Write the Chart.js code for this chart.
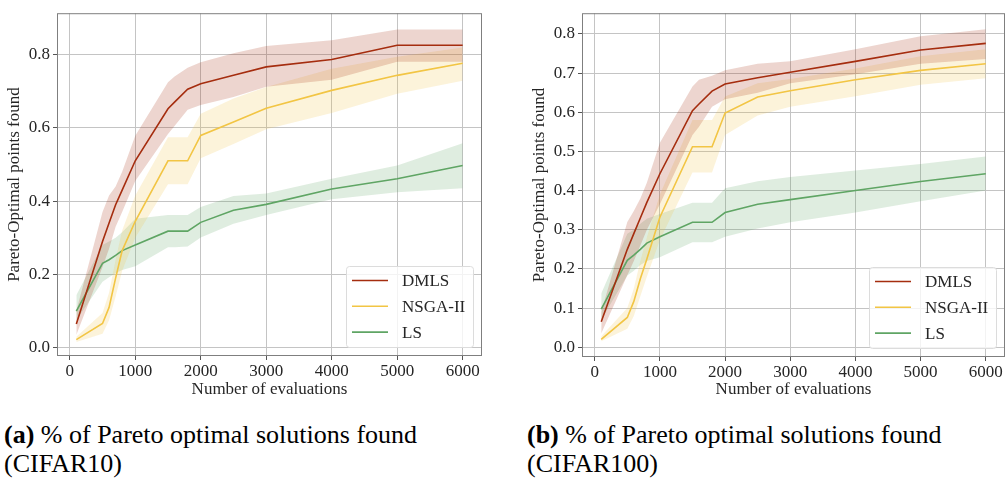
<!DOCTYPE html>
<html>
<head>
<meta charset="utf-8">
<script src="https://cdn.jsdelivr.net/npm/chart.js@4.4.1/dist/chart.umd.min.js"></script>
<style>
  html, body { margin: 0; padding: 0; background: #fff; }
  body { width: 1006px; height: 485px; position: relative; overflow: hidden; }
  .box { position: absolute; top: 0; height: 400px; }
  #boxA { left: 0; width: 490px; }
  #boxB { left: 500px; width: 506px; }
  .caption {
    position: absolute; top: 420px;
    font-family: "Liberation Serif", "Times New Roman", serif;
    font-size: 26px; line-height: 29px; color: #000; white-space: nowrap;
  }
  .caption b { font-weight: bold; }
</style>
</head>
<body>
<div class="box" id="boxA"><canvas id="chartA" width="490" height="400"></canvas></div>
<div class="box" id="boxB"><canvas id="chartB" width="506" height="400"></canvas></div>
<div class="caption" style="left:4px"><b>(a)</b> % of Pareto optimal solutions found<br>(CIFAR10)</div>
<div class="caption" style="left:527px"><b>(b)</b> % of Pareto optimal solutions found<br>(CIFAR100)</div>

<script>
// evaluation counts (x) shared by both panels
const xEvals = [100, 500, 600, 700, 800, 1000, 1500, 1600, 1800, 2000, 2500, 3000, 4000, 5000, 6000];
const xTicks = [0, 1000, 2000, 3000, 4000, 5000, 6000];
const yTicksA = [0, 0.2, 0.4, 0.6, 0.8];
const yTicksB = [0, 0.1, 0.2, 0.3, 0.4, 0.5, 0.6, 0.7, 0.8];

// (a) CIFAR10
const dmlsMeanA = [0.065, 0.29, 0.34, 0.39, 0.43, 0.51, 0.652, 0.67, 0.705, 0.72, 0.743, 0.766, 0.786, 0.825, 0.825];
const dmlsUpA   = [0.10, 0.37, 0.415, 0.44, 0.48, 0.578, 0.724, 0.74, 0.764, 0.779, 0.803, 0.823, 0.839, 0.868, 0.868];
const dmlsLowA  = [0.035, 0.22, 0.27, 0.33, 0.37, 0.455, 0.583, 0.605, 0.649, 0.662, 0.684, 0.712, 0.731, 0.78, 0.78];
const nsgaMeanA = [0.022, 0.066, 0.11, 0.19, 0.265, 0.345, 0.51, 0.51, 0.51, 0.579, 0.616, 0.653, 0.702, 0.743, 0.776];
const nsgaUpA   = [0.03, 0.095, 0.15, 0.24, 0.32, 0.415, 0.574, 0.574, 0.574, 0.638, 0.68, 0.711, 0.761, 0.794, 0.819];
const nsgaLowA  = [0.016, 0.038, 0.075, 0.14, 0.21, 0.30, 0.446, 0.446, 0.446, 0.517, 0.556, 0.596, 0.64, 0.693, 0.728];
const lsMeanA   = [0.10, 0.23, 0.24, 0.252, 0.265, 0.28, 0.318, 0.318, 0.318, 0.342, 0.375, 0.391, 0.433, 0.461, 0.497];
const lsUpA     = [0.143, 0.28, 0.29, 0.30, 0.315, 0.352, 0.362, 0.362, 0.362, 0.384, 0.414, 0.421, 0.461, 0.497, 0.558];
const lsLowA    = [0.075, 0.18, 0.192, 0.203, 0.212, 0.222, 0.274, 0.274, 0.276, 0.301, 0.338, 0.362, 0.405, 0.424, 0.435];

// (b) CIFAR100
const dmlsMeanB = [0.065, 0.25, 0.29, 0.33, 0.37, 0.443, 0.604, 0.621, 0.654, 0.672, 0.688, 0.702, 0.73, 0.759, 0.776];
const dmlsUpB   = [0.09, 0.32, 0.348, 0.38, 0.42, 0.522, 0.666, 0.683, 0.693, 0.707, 0.724, 0.73, 0.761, 0.794, 0.812];
const dmlsLowB  = [0.035, 0.184, 0.22, 0.26, 0.30, 0.365, 0.542, 0.563, 0.614, 0.633, 0.65, 0.674, 0.697, 0.724, 0.736];
const nsgaMeanB = [0.02, 0.076, 0.117, 0.175, 0.225, 0.332, 0.512, 0.512, 0.512, 0.598, 0.639, 0.655, 0.683, 0.707, 0.724];
const nsgaUpB   = [0.028, 0.10, 0.15, 0.22, 0.28, 0.39, 0.58, 0.58, 0.58, 0.64, 0.674, 0.685, 0.712, 0.743, 0.761];
const nsgaLowB  = [0.015, 0.047, 0.08, 0.13, 0.18, 0.274, 0.446, 0.446, 0.446, 0.542, 0.592, 0.614, 0.641, 0.67, 0.687];
const lsMeanB   = [0.097, 0.222, 0.235, 0.25, 0.266, 0.282, 0.319, 0.319, 0.319, 0.344, 0.365, 0.377, 0.40, 0.423, 0.443];
const lsUpB     = [0.137, 0.29, 0.30, 0.315, 0.328, 0.34, 0.369, 0.369, 0.369, 0.406, 0.424, 0.435, 0.451, 0.468, 0.487];
const lsLowB    = [0.07, 0.183, 0.195, 0.21, 0.22, 0.23, 0.268, 0.268, 0.268, 0.282, 0.303, 0.319, 0.344, 0.373, 0.40];

const FONT = "'Liberation Serif', 'Times New Roman', serif";
const colors = {
    DMLS: [165, 45, 15],
    'NSGA-II': [242, 197, 68],
    LS: [95, 165, 100]
};

function pts(ys) {
    return xEvals.map((x, i) => ({ x: x, y: ys[i] }));
}

function rgba(c, a) {
    return `rgba(${c[0]}, ${c[1]}, ${c[2]}, ${a})`;
}

// lower edge, upper edge filled down to it, then the mean line
function bandDatasets(name, mean, up, low) {
    const c = colors[name];
    return [
        { data: pts(low), borderWidth: 0, pointRadius: 0, fill: false, order: 1 },
        { data: pts(up), borderWidth: 0, pointRadius: 0, fill: '-1', backgroundColor: rgba(c, 0.2), order: 1 },
        { label: name, data: pts(mean), borderColor: rgba(c, 1), borderWidth: 1.6, pointRadius: 0, fill: false, order: 0 }
    ];
}

// axes box and legend inside the plot area
const framePlugin = {
    id: 'frame',
    afterDraw(chart) {
        const ctx = chart.ctx;
        const a = chart.chartArea;
        ctx.save();
        ctx.strokeStyle = '#7f7f7f';
        ctx.lineWidth = 1;
        ctx.strokeRect(a.left + 0.5, a.top + 0.5, a.right - a.left - 1, a.bottom - a.top - 1);

        const w = 127, h = 81;
        const bx = a.right - 9 - w, by = a.bottom - 9 - h;
        ctx.beginPath();
        ctx.roundRect(bx + 0.5, by + 0.5, w, h, 3);
        ctx.fillStyle = 'rgba(255,255,255,0.8)';
        ctx.fill();
        ctx.strokeStyle = '#dcdcdc';
        ctx.stroke();

        const items = chart.data.datasets.filter(d => d.label);
        ctx.font = '17px ' + FONT;
        ctx.textBaseline = 'middle';
        ctx.fillStyle = '#262626';
        items.forEach((d, i) => {
            const y = by + 14.5 + i * 25.8;
            ctx.beginPath();
            ctx.moveTo(bx + 6, y);
            ctx.lineTo(bx + 42, y);
            ctx.strokeStyle = d.borderColor;
            ctx.lineWidth = 1.6;
            ctx.stroke();
            ctx.fillText(d.label, bx + 56, y + 1);
        });
        ctx.restore();
    }
};

function makeChart(id, datasets, yMin, yMax, yTicks, padLeft, padRight, xHeight) {
    const ctx = document.getElementById(id).getContext('2d');
    return new Chart(ctx, {
        type: 'line',
        data: { datasets: datasets },
        options: {
            responsive: false,
            animation: false,
            events: [],
            layout: { padding: { left: padLeft, right: padRight, top: 3, bottom: 0 } },
            plugins: {
                legend: { display: false },
                tooltip: { enabled: false },
                filler: { propagate: false }
            },
            scales: {
                x: {
                    type: 'linear',
                    min: -195,
                    max: 6295,
                    afterBuildTicks: s => { s.ticks = xTicks.map(v => ({ value: v })); },
                    afterFit: s => { s.height = xHeight; },
                    grid: { color: '#c4c4c4', lineWidth: 1, tickLength: 4, tickColor: '#555' },
                    border: { display: false },
                    ticks: {
                        color: '#262626', padding: 1, maxRotation: 0,
                        font: { family: FONT, size: 17 },
                        callback: v => String(v)
                    },
                    title: {
                        display: true, text: 'Number of evaluations', color: '#262626',
                        font: { family: FONT, size: 17 }, padding: { top: 0, bottom: 0 }
                    }
                },
                y: {
                    min: yMin,
                    max: yMax,
                    afterBuildTicks: s => { s.ticks = yTicks.map(v => ({ value: v })); },
                    afterFit: s => { s.width = 57; },
                    grid: { color: '#c4c4c4', lineWidth: 1, tickLength: 4, tickColor: '#555' },
                    border: { display: false },
                    ticks: {
                        color: '#262626', padding: 3,
                        font: { family: FONT, size: 17 },
                        callback: v => v.toFixed(1)
                    },
                    title: {
                        display: true, text: 'Pareto-Optimal points found', color: '#262626',
                        font: { family: FONT, size: 17 }, padding: { top: 4, bottom: 0 }
                    }
                }
            }
        },
        plugins: [framePlugin]
    });
}

makeChart('chartA', [
    ...bandDatasets('DMLS', dmlsMeanA, dmlsUpA, dmlsLowA),
    ...bandDatasets('NSGA-II', nsgaMeanA, nsgaUpA, nsgaLowA),
    ...bandDatasets('LS', lsMeanA, lsUpA, lsLowA)
], -0.0225, 0.9125, yTicksA, 0, 8, 44);

makeChart('chartB', [
    ...bandDatasets('DMLS', dmlsMeanB, dmlsUpB, dmlsLowB),
    ...bandDatasets('NSGA-II', nsgaMeanB, nsgaUpB, nsgaLowB),
    ...bandDatasets('LS', lsMeanB, lsUpB, lsLowB)
], -0.025, 0.853, yTicksB, 25, 1, 43);
</script>
</body>
</html>
